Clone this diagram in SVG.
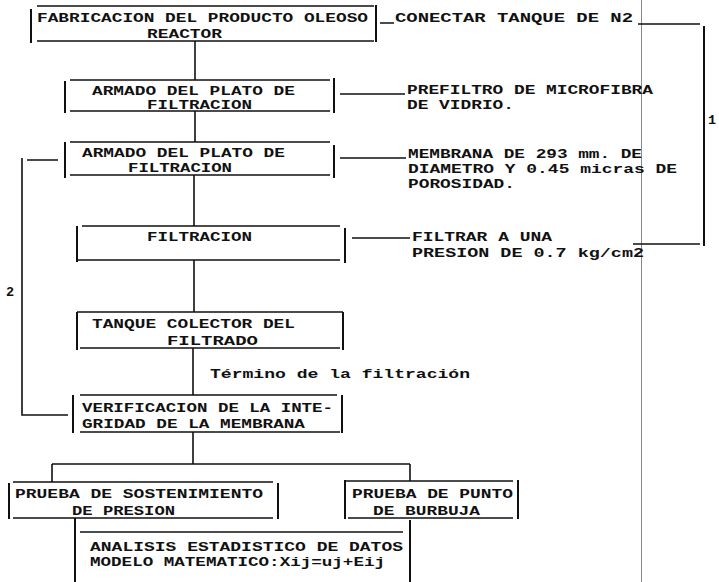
<svg xmlns="http://www.w3.org/2000/svg" width="719" height="582" viewBox="0 0 719 582">
<style>
.t{font-family:"Liberation Mono","Courier New",monospace;font-size:13.5px;font-weight:bold;fill:#111}
.l{stroke:#111;stroke-width:1.6;fill:none}
.b{stroke:#111;stroke-width:2;fill:none}
.g{stroke:#8a8a8a;stroke-width:1;fill:none}
</style>
<rect width="719" height="582" fill="#fff"/>
<line class="g" x1="641.5" y1="0" x2="641.5" y2="582"/>
<g id="connectors">
<path class="l" d="M195 41V80M195 111V142M194 175V226M194 260V312M193 348V395M193 432V464M52 464H410M52 464V482M410 464V481"/>
<path class="l" d="M380 23H394M638 24H700M633 244H700"/>
<path class="b" d="M704 26V246"/>
<path class="l" d="M340 94H405M340 158H406M352 238H410"/>
<path class="l" d="M27 160H58M22 158V415H68"/>
<path class="b" d="M75 518V582M410 520V582"/>
<text class="t" x="210" y="378" textLength="260" lengthAdjust="spacingAndGlyphs">Término de la filtración</text>
<text class="t" x="708" y="124">1</text>
<text class="t" x="6" y="296">2</text>
</g>
<g id="n1">
<path class="l" d="M37 6H374M37 41H374"/><path class="b" d="M31 9V43M376 5V42"/>
<text class="t" x="37" y="22" textLength="331" lengthAdjust="spacingAndGlyphs">FABRICACION DEL PRODUCTO OLEOSO</text>
<text class="t" x="147" y="38" textLength="75" lengthAdjust="spacingAndGlyphs">REACTOR</text>
</g>
<g id="n1b">
<text class="t" x="395" y="22" textLength="238" lengthAdjust="spacingAndGlyphs">CONECTAR TANQUE DE N2</text>
</g>
<g id="n2">
<path class="l" d="M70 80H330M70 111H330"/><path class="b" d="M65 81V113M334 78V113"/>
<text class="t" x="92" y="95" textLength="203" lengthAdjust="spacingAndGlyphs">ARMADO DEL PLATO DE</text>
<text class="t" x="147" y="109" textLength="105" lengthAdjust="spacingAndGlyphs">FILTRACION</text>
</g>
<g id="n2b">
<text class="t" x="407" y="94" textLength="246" lengthAdjust="spacingAndGlyphs">PREFILTRO DE MICROFIBRA</text>
<text class="t" x="407" y="109" textLength="107" lengthAdjust="spacingAndGlyphs">DE VIDRIO.</text>
</g>
<g id="n3">
<path class="l" d="M70 142H330M70 175H330"/><path class="b" d="M65 142V178M334 145V178"/>
<text class="t" x="82" y="157" textLength="203" lengthAdjust="spacingAndGlyphs">ARMADO DEL PLATO DE</text>
<text class="t" x="128" y="172" textLength="104" lengthAdjust="spacingAndGlyphs">FILTRACION</text>
</g>
<g id="n3b">
<text class="t" x="408" y="158" textLength="234" lengthAdjust="spacingAndGlyphs">MEMBRANA DE 293 mm. DE</text>
<text class="t" x="408" y="173" textLength="269" lengthAdjust="spacingAndGlyphs">DIAMETRO Y 0.45 micras DE</text>
<text class="t" x="408" y="188" textLength="107" lengthAdjust="spacingAndGlyphs">POROSIDAD.</text>
</g>
<g id="n4">
<path class="l" d="M82 226H340M78 260H340"/><path class="b" d="M77 226V262M345 228V263"/>
<text class="t" x="147" y="241" textLength="105" lengthAdjust="spacingAndGlyphs">FILTRACION</text>
</g>
<g id="n4b">
<text class="t" x="412" y="241" textLength="140" lengthAdjust="spacingAndGlyphs">FILTRAR A UNA</text>
<text class="t" x="412" y="257" textLength="232" lengthAdjust="spacingAndGlyphs">PRESION DE 0.7 kg/cm2</text>
</g>
<g id="n5">
<path class="l" d="M77 312H343M80 348H340"/><path class="b" d="M77 312V350M343 312V350"/>
<text class="t" x="92" y="328" textLength="203" lengthAdjust="spacingAndGlyphs">TANQUE COLECTOR DEL</text>
<text class="t" x="167" y="345" textLength="91" lengthAdjust="spacingAndGlyphs">FILTRADO</text>
</g>
<g id="n6">
<path class="l" d="M80 395H337M80 432H340"/><path class="b" d="M73 395V433M342 395V433"/>
<text class="t" x="82" y="412" textLength="251" lengthAdjust="spacingAndGlyphs">VERIFICACION DE LA INTE-</text>
<text class="t" x="82" y="428" textLength="223" lengthAdjust="spacingAndGlyphs">GRIDAD DE LA MEMBRANA</text>
</g>
<g id="n7">
<path class="l" d="M13 482H273M13 518H273"/><path class="b" d="M9 483V519M278 483V519"/>
<text class="t" x="15" y="498" textLength="248" lengthAdjust="spacingAndGlyphs">PRUEBA DE SOSTENIMIENTO</text>
<text class="t" x="72" y="515" textLength="103" lengthAdjust="spacingAndGlyphs">DE PRESION</text>
</g>
<g id="n8">
<path class="l" d="M345 481H513M348 518H513"/><path class="b" d="M345 480V519M518 480V519"/>
<text class="t" x="352" y="498" textLength="161" lengthAdjust="spacingAndGlyphs">PRUEBA DE PUNTO</text>
<text class="t" x="373" y="515" textLength="107" lengthAdjust="spacingAndGlyphs">DE BURBUJA</text>
</g>
<g id="n9">
<path class="l" d="M80 532H403"/>
<text class="t" x="90" y="551" textLength="313" lengthAdjust="spacingAndGlyphs">ANALISIS ESTADISTICO DE DATOS</text>
<text class="t" x="90" y="566" textLength="295" lengthAdjust="spacingAndGlyphs">MODELO MATEMATICO:Xij=uj+Eij</text>
</g>
</svg>
